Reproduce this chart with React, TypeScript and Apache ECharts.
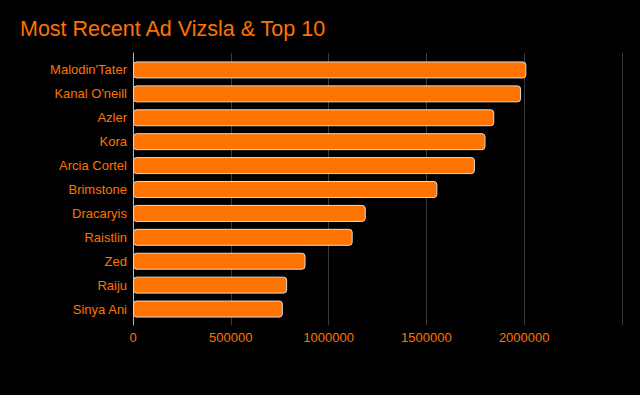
import React, { useEffect, useRef } from "react";
import * as echarts from "echarts";

const categories = [
  "Malodin'Tater",
  "Kanal O'neill",
  "Azler",
  "Kora",
  "Arcia Cortel",
  "Brimstone",
  "Dracaryis",
  "Raistlin",
  "Zed",
  "Raiju",
  "Sinya Ani",
];
const values = [2011000, 1984000, 1847000, 1802000, 1748000, 1556000, 1190000, 1123000, 882000, 788000, 766000];
const xMin = 0;
const xMax = 2500000;
const xStep = 500000;

const ORANGE = "#ff7300";
const FONT = "Liberation Sans, Arial, sans-serif";

export default function App() {
  const ref = useRef<HTMLDivElement>(null);
  useEffect(() => {
    const chart = echarts.init(ref.current!, undefined, { renderer: "svg" });
    chart.setOption({
      animation: false,
      backgroundColor: "#000000",
      title: {
        text: "Most Recent Ad Vizsla & Top 10",
        left: 15,
        top: 13,
        textStyle: { color: ORANGE, fontSize: 21.5, fontWeight: "normal", fontFamily: FONT },
      },
      grid: [
        { left: 133, right: 18, top: 53, bottom: 70, containLabel: false },
        { left: 133, right: 18, top: 58, bottom: 74, containLabel: false },
      ],
      xAxis: [
        {
          gridIndex: 0,
          type: "value",
          min: xMin,
          max: xMax,
          interval: xStep,
          axisLine: { show: false },
          axisTick: { show: false },
          splitLine: { show: true, lineStyle: { color: "#3a3a3a", width: 1 } },
          axisLabel: {
            color: ORANGE,
            fontSize: 13,
            margin: 6,
            showMaxLabel: false,
            fontFamily: FONT,
            formatter: (v: number) => String(v),
          },
        },
        {
          gridIndex: 1,
          type: "value",
          min: xMin,
          max: xMax,
          interval: xStep,
          show: false,
        },
      ],
      yAxis: [
        {
          gridIndex: 0,
          type: "value",
          min: 0,
          max: 1,
          axisLine: { show: true, lineStyle: { color: "#bbbbbb" } },
          axisTick: { show: false },
          axisLabel: { show: false },
          splitLine: { show: false },
        },
        {
          gridIndex: 1,
          type: "category",
          inverse: true,
          data: categories,
          axisLine: { show: false },
          axisTick: { show: false },
          axisLabel: { color: ORANGE, fontSize: 13, margin: 6, fontFamily: FONT },
        },
      ],
      series: [
        {
          type: "bar",
          xAxisIndex: 1,
          yAxisIndex: 1,
          data: values,
          barWidth: "71%",
          itemStyle: {
            color: ORANGE,
            borderColor: "#dddddd",
            borderWidth: 1,
            borderRadius: 3,
          },
        },
      ],
    });
    return () => chart.dispose();
  }, []);
  return <div ref={ref} style={{ width: 640, height: 395, position: "absolute", left: 0, top: 0 }} />;
}
